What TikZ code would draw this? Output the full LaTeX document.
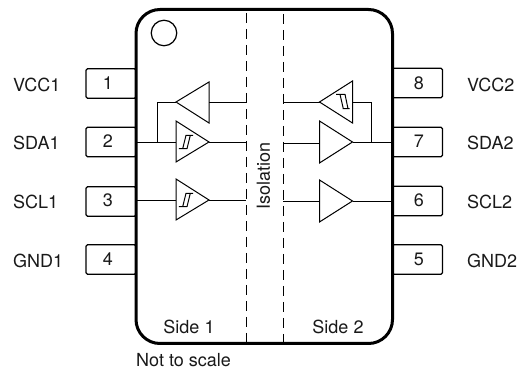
\documentclass[tikz,border=0pt]{standalone}
\usepackage{fontspec}
\setmainfont{TeX Gyre Heros}
\begin{document}
\begin{tikzpicture}[x=1pt,y=-1pt,
  thinln/.style={line width=1pt,line join=miter},
  wire/.style={line width=0.95pt},
  sym/.style={line width=1pt},
  pinbox/.style={draw,line width=1.1pt,rounded corners=1.5pt,minimum width=50pt,minimum height=29.5pt,inner sep=0pt,anchor=center},
  txt/.style={font=\fontsize{18pt}{20pt}\selectfont,inner sep=0pt,anchor=base,text=black!90},
  txtw/.style={txt,anchor=base west},
  iso/.style={line width=0.9pt,dash pattern=on 10pt off 6pt}]
\useasboundingbox (0,0) rectangle (520,371);
% pins
\node[pinbox] (p1) at (111,83.5) {};
\node[pinbox] (p2) at (111,142) {};
\node[pinbox] (p3) at (111,201.5) {};
\node[pinbox] (p4) at (111,259.5) {};
\node[pinbox] (p8) at (417.5,83) {};
\node[pinbox] (p7) at (417.5,142) {};
\node[pinbox] (p6) at (417.5,201) {};
\node[pinbox] (p5) at (417.5,259.5) {};
\node[txt] (n1) at (108,89.5) {1};
\node[txt] (n2) at (108,147.5) {2};
\node[txt] (n3) at (108,206.5) {3};
\node[txt] (n4) at (108,265.5) {4};
\node[txt] (n8) at (419,89.5) {8};
\node[txt] (n7) at (419,147.5) {7};
\node[txt] (n6) at (419,206.5) {6};
\node[txt] (n5) at (419,265.5) {5};
\node[txtw] (l1) at (13,91.5) {VCC1};
\node[txtw] (l2) at (13,150) {SDA1};
\node[txtw] (l3) at (13,209) {SCL1};
\node[txtw] (l4) at (13,268) {GND1};
\node[txtw] (l8) at (467,91.5) {VCC2};
\node[txtw] (l7) at (467,150) {SDA2};
\node[txtw] (l6) at (467,209) {SCL2};
\node[txtw] (l5) at (467,268) {GND2};
% chip
\draw[line width=3pt,fill=white] (136,33.5) arc[start angle=180,end angle=270,radius=24] -- (368.5,9.5) arc[start angle=-90,end angle=0,radius=24] -- (392.5,319.5) arc[start angle=0,end angle=90,radius=24] -- (160,343.5) arc[start angle=90,end angle=180,radius=24] -- cycle;
\node[draw,circle,line width=1.2pt,minimum size=25.5pt,inner sep=0pt] (dot) at (164,33) {};
% isolation
\coordinate (i1t) at (246,13); \coordinate (i1b) at (246,342);
\coordinate (i2t) at (283,14); \coordinate (i2b) at (283,342);
\draw[iso] (i1t) -- (i1b);
\draw[iso] (i2t) -- (i2b);
\node[txt,anchor=center,rotate=90] (isol) at (263.5,176) {Isolation};
\node[txt] (s1) at (189,334) {Side 1};
\node[txt] (s2) at (338,334) {Side 2};
\node[txt,anchor=base west] (nts) at (136,366.5) {Not to scale};
% side-1 points
\coordinate (a1) at (176,102); \coordinate (a1o) at (209,102);
\coordinate (a2i) at (176,142); \coordinate (a2o) at (209,142);
\coordinate (a3i) at (176,200); \coordinate (a3o) at (209,200);
\coordinate (j1) at (157,142);
\coordinate (e1a) at (246,102); \coordinate (e1b) at (246,142); \coordinate (e1c) at (246,200);
\coordinate (w2) at (136,142); \coordinate (w3) at (136,200);
% side-2 points
\coordinate (b1) at (319.5,102); \coordinate (b1o) at (352.5,102);
\coordinate (b2i) at (319.5,143); \coordinate (b2o) at (352.5,142);
\coordinate (b3i) at (319.5,201); \coordinate (b3o) at (352.5,201);
\coordinate (j2) at (371.5,142);
\coordinate (e2a) at (283,102); \coordinate (e2b) at (283,143); \coordinate (e2c) at (283,201);
\coordinate (w7) at (392.5,142); \coordinate (w6) at (392.5,201);
% wires
\draw[wire] (a1o) -- (e1a);
\draw[wire] (a1) -| (j1);
\draw[wire] (w2) -- (a2i);
\draw[wire] (a2o) -- (e1b);
\draw[wire] (w3) -- (a3i);
\draw[wire] (a3o) -- (e1c);
\draw[wire] (e2a) -- (b1);
\draw[wire] (b1o) -| (j2);
\draw[wire] (e2b) -- (b2i);
\draw[wire] (b2o) -- (w7);
\draw[wire] (e2c) -- (b3i);
\draw[wire] (b3o) -- (w6);
% triangles
\draw[thinln] (a1) -- (209,82) -- (209,123) -- cycle;
\draw[thinln] (a2o) -- (176,121) -- (176,162) -- cycle;
\draw[thinln] (a3o) -- (176,179) -- (176,220) -- cycle;
\draw[thinln] (b1) -- (352.5,81) -- (352.5,123) -- cycle;
\draw[thinln] (b2o) -- (319.5,121) -- (319.5,163) -- cycle;
\draw[thinln] (b3o) -- (319.5,180) -- (319.5,222) -- cycle;
% hysteresis symbols
\foreach \dy in {0,58}{
  \draw[sym,yshift=-\dy pt] (178.8,148.7) -- (187,148.7) (182.7,148.7) -- (186,135.3) (187,148.7) -- (190.3,135.3) (185.5,135.3) -- (193,135.3);
}
\draw[sym] (336,94.3) -- (345,94.3) (340,94.3) -- (343.3,108.7) (345,94.3) -- (348,108.7) (342.5,108.7) -- (349.5,108.7);
\end{tikzpicture}
\end{document}
